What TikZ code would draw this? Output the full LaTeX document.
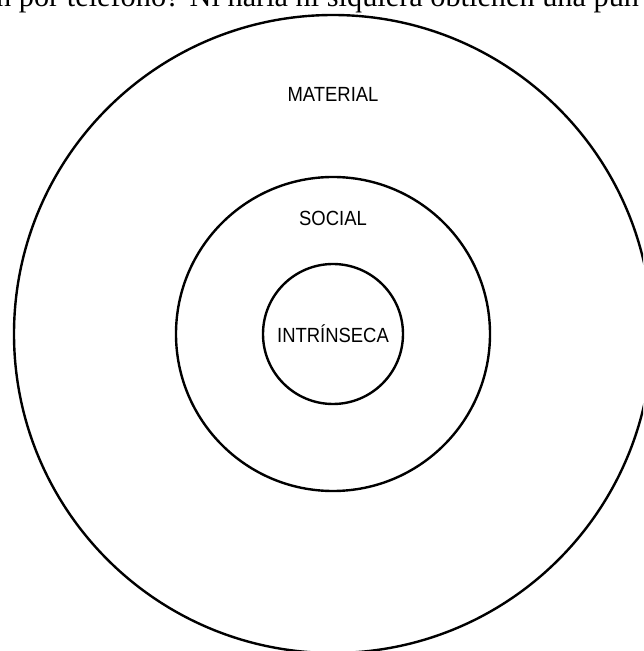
\documentclass[tikz,border=0pt]{standalone}
\usepackage{fontspec}
\setmainfont{Liberation Serif}
\newfontfamily\etiq[FakeStretch=0.9]{Liberation Sans}
\usetikzlibrary{positioning}

\begin{document}
\begin{tikzpicture}[x=1pt,y=1pt,line width=2.4pt,
                    every node/.style={font=\etiq\fontsize{20.5}{24}\selectfont},
                    cercle/.style={draw,circle,inner sep=0pt,line width=2.4pt}]
    \useasboundingbox (0,0) rectangle (643,651);
    \clip (0,0) rectangle (643,651);

    % Ligne de texte de la page, coupée en haut
    \node[anchor=base west,inner sep=0pt,font=\rmfamily\fontsize{30.3}{36}\selectfont] (page) at (-5,644)
        {n por teléfono? Ni haría ni siquiera obtienen una pun};

    % Cercles concentriques
    \node[cercle,minimum size=140pt] (intrinseca) at (333,317) {INTRÍNSECA};
    \node[cercle,minimum size=314pt] (social) at (intrinseca.center) {};
    \node[cercle,minimum size=638pt] (material) at (intrinseca.center) {};

    % Étiquettes
    \node[below=43pt of social.north,anchor=center] (lsocial) {SOCIAL};
    \node[below=81pt of material.north,anchor=center] (lmaterial) {MATERIAL};
\end{tikzpicture}
\end{document}
